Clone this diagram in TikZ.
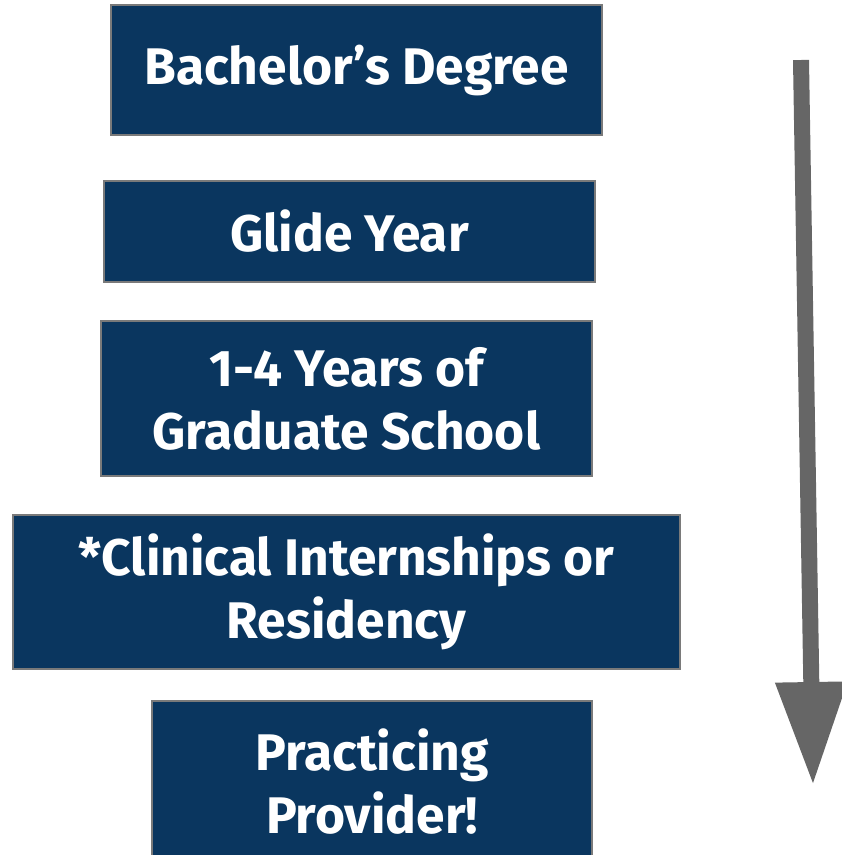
\documentclass[tikz,border=0pt]{standalone}
\usepackage{fontspec}
\setmainfont{Fira Sans}
\usepackage{tikz}
\usetikzlibrary{positioning,arrows.meta}
\definecolor{navy}{HTML}{0A365F}
\definecolor{rim}{HTML}{7A7A7A}
\definecolor{pointer}{HTML}{666666}

\begin{document}
\begin{tikzpicture}[x=1pt, y=-1pt, every node/.style={draw=rim, line width=1.5pt, fill=navy, text=white, align=center, inner sep=0pt, outer sep=0pt, font=\bfseries\fontsize{51.5}{63}\selectfont}]
            \useasboundingbox (0,0) rectangle (842,855);
            \clip (0,0) rectangle (842,855);
            \node[minimum width=491pt, minimum height=130pt] (bach) at (356.5,70) {Bachelor’s Degree};
            \node[below= 46pt of bach, xshift=-7pt,   minimum width=491pt, minimum height=101pt] (glide) {Glide Year};
            \node[below= 39pt of glide, xshift=-3pt,  minimum width=491pt, minimum height=155pt] (grad) {1-4 Years of\\Graduate School};
            \node[below= 39pt of grad,                minimum width=667pt, minimum height=154pt] (clin) {*Clinical Internships or\\Residency};
            \node[below= 32pt of clin, xshift=25.5pt, minimum width=440pt, minimum height=162pt] (prov) {Practicing\\Provider!};
            \coordinate (top) at (801,60);
            \coordinate (tip) at (813,785);
            \draw[pointer, line width=16pt, -{Triangle[length=103pt, width=68pt]}] (top) -- (tip);
        \end{tikzpicture}
\end{document}
